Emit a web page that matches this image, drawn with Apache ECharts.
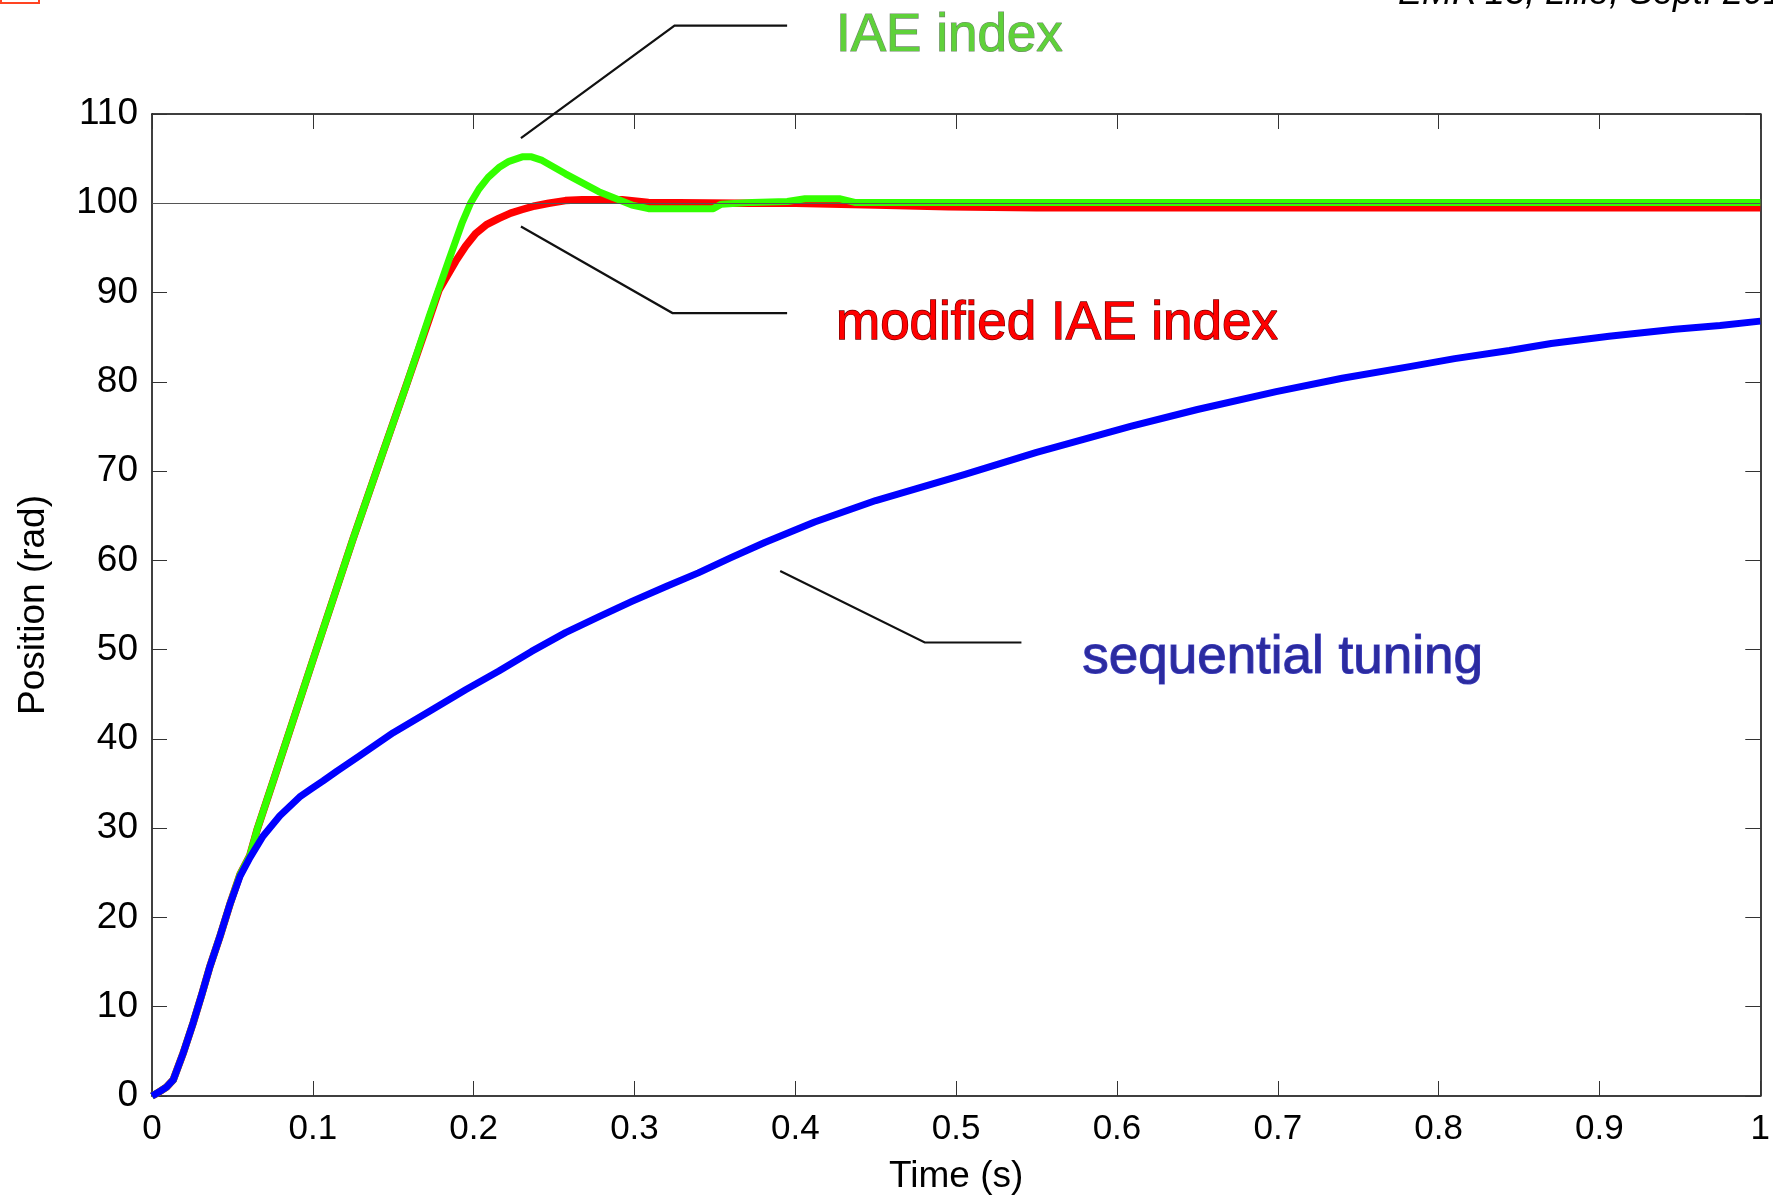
<!DOCTYPE html>
<html><head><meta charset="utf-8">
<script src="https://cdn.jsdelivr.net/npm/echarts@6/dist/echarts.min.js"></script>
<style>html,body{margin:0;padding:0;background:#fff}#c{width:1773px;height:1200px}</style>
</head><body><div id="c"></div>
<script>
// ---- data ----
const xTickValues = [0, 0.1, 0.2, 0.3, 0.4, 0.5, 0.6, 0.7, 0.8, 0.9, 1];
const yTickValues = [0, 10, 20, 30, 40, 50, 60, 70, 80, 90, 100, 110];
const setpoint = 100;

const tBlue = [0, 0.004, 0.009, 0.0132, 0.0194, 0.0256, 0.031, 0.036, 0.0423, 0.0485, 0.0547, 0.0609, 0.069, 0.0795, 0.0918, 0.099, 0.1064, 0.115, 0.129, 0.15, 0.1744, 0.195, 0.2157, 0.236, 0.2571, 0.278, 0.2984, 0.32, 0.3397, 0.36, 0.381, 0.412, 0.45, 0.505, 0.55, 0.6084, 0.65, 0.699, 0.74, 0.782, 0.81, 0.844, 0.87, 0.906, 0.947, 0.975, 1.0];
const vBlue = [0, 0.4, 1.0, 1.8, 4.8, 8.2, 11.4, 14.5, 17.9, 21.5, 24.6, 26.7, 29.1, 31.4, 33.5, 34.4, 35.3, 36.4, 38.1, 40.7, 43.3, 45.5, 47.6, 49.8, 51.9, 53.7, 55.4, 57.1, 58.6, 60.3, 62.0, 64.3, 66.7, 69.6, 72.1, 75.0, 76.9, 78.9, 80.4, 81.7, 82.6, 83.5, 84.3, 85.1, 85.9, 86.3, 86.8];

const tRed = [0, 0.004, 0.009, 0.0132, 0.0194, 0.0256, 0.031, 0.036, 0.0423, 0.0485, 0.0547, 0.0608, 0.0653, 0.0756, 0.1, 0.1248, 0.1434, 0.1579, 0.1723, 0.1785, 0.1888, 0.195, 0.2012, 0.208, 0.2157, 0.223, 0.2302, 0.238, 0.2467, 0.257, 0.2674, 0.2922, 0.3087, 0.365, 0.40, 0.45, 0.495, 0.55, 0.7, 1.0];
const vRed = [0, 0.4, 1.0, 1.8, 4.8, 8.2, 11.4, 14.5, 17.9, 21.5, 24.8, 26.9, 29.8, 35.4, 48.8, 62.3, 72.0, 79.5, 87.0, 90.3, 93.5, 95.2, 96.6, 97.6, 98.3, 98.9, 99.3, 99.7, 100.0, 100.3, 100.4, 100.4, 100.1, 100.0, 100.0, 99.8, 99.6, 99.5, 99.5, 99.5];

const tGreen = [0, 0.004, 0.009, 0.0132, 0.0194, 0.0256, 0.031, 0.036, 0.0423, 0.0485, 0.0547, 0.0608, 0.0653, 0.0756, 0.1, 0.1248, 0.1434, 0.1579, 0.1723, 0.1847, 0.193, 0.198, 0.2033, 0.209, 0.2157, 0.222, 0.2302, 0.236, 0.2426, 0.2571, 0.2778, 0.2984, 0.3087, 0.349, 0.354, 0.373, 0.395, 0.406, 0.428, 0.437, 1.0];
const vGreen = [0, 0.4, 1.0, 1.8, 4.8, 8.2, 11.4, 14.5, 17.9, 21.5, 24.8, 26.9, 29.8, 35.4, 48.8, 62.3, 72.0, 79.5, 87.3, 93.7, 97.9, 100.0, 101.6, 102.9, 104.0, 104.7, 105.2, 105.2, 104.8, 103.3, 101.3, 99.8, 99.4, 99.4, 99.9, 100.1, 100.2, 100.5, 100.5, 100.1, 100.1];

// annotation anchors in data units
const leaderIAE = [[0.2294, 107.3], [0.3249, 119.9], [0.3949, 119.9]];
const leaderMod = [[0.2294, 97.4], [0.3236, 87.7], [0.3949, 87.7]];
const leaderSeq = [[0.3906, 58.8], [0.4805, 50.8], [0.5406, 50.8]];
const labelIAE = [0.4253, 116.9];
const labelMod = [0.4253, 84.7];
const labelSeq = [0.5784, 47.2];
const labelTexts = ['IAE index', 'modified IAE index', 'sequential tuning'];
const cornerNote = "EMR'13, Lille, Sept. 2013";

// ---- chart ----
const FF = '"Liberation Sans", Arial, Helvetica, sans-serif';
const pairs = (t, v) => t.map((x, i) => [x, v[i]]);
const chart = echarts.init(document.getElementById('c'), null, {renderer: 'canvas'});

const xFmt = v => (v === 0 ? '0' : v === 1 ? '1' : String(+v.toFixed(1)));
const axisLineStyle = {color: '#000', width: 1.5};
const tickStyle = {show: true, inside: true, length: 15, lineStyle: {color: '#333', width: 1}};

const option = {
  animation: false,
  backgroundColor: '#fff',
  grid: {left: 152, right: 7, top: 114, bottom: 104, containLabel: false},
  xAxis: [
    {type: 'value', min: 0, max: 1, interval: 0.1, position: 'bottom',
     axisLine: {show: true, onZero: false, lineStyle: axisLineStyle},
     axisTick: tickStyle,
     axisLabel: {color: '#000', fontSize: 35, fontFamily: FF, margin: 16, formatter: xFmt},
     splitLine: {show: false},
     name: 'Time (s)', nameLocation: 'middle', nameGap: 62,
     nameTextStyle: {color: '#000', fontSize: 37, fontFamily: FF}},
    {type: 'value', min: 0, max: 1, interval: 0.1, position: 'top',
     axisLine: {show: true, onZero: false, lineStyle: axisLineStyle},
     axisTick: tickStyle, axisLabel: {show: false}, splitLine: {show: false}}
  ],
  yAxis: [
    {type: 'value', min: 0, max: 110, interval: 10, position: 'left',
     axisLine: {show: true, onZero: false, lineStyle: axisLineStyle},
     axisTick: tickStyle,
     axisLabel: {color: '#000', fontSize: 37, fontFamily: FF, margin: 14},
     splitLine: {show: false},
     name: 'Position (rad)', nameLocation: 'middle', nameGap: 100, nameRotate: 90,
     nameTextStyle: {color: '#000', fontSize: 37, fontFamily: FF}},
    {type: 'value', min: 0, max: 110, interval: 10, position: 'right',
     axisLine: {show: true, onZero: false, lineStyle: axisLineStyle},
     axisTick: tickStyle, axisLabel: {show: false}, splitLine: {show: false}}
  ],
  series: [
    {type: 'line', name: 'ref', data: [], z: 1, silent: true,
     markLine: {silent: true, symbol: 'none', label: {show: false},
       lineStyle: {color: '#555', width: 1, type: 'solid'}, data: [{yAxis: setpoint}]}},
    {type: 'line', name: 'modified IAE index', data: pairs(tRed, vRed), showSymbol: false, z: 2,
     lineStyle: {color: '#ff0000', width: 7.5, join: 'round'}, itemStyle: {color: '#ff0000'}},
    {type: 'line', name: 'IAE index', data: pairs(tGreen, vGreen), showSymbol: false, z: 3,
     lineStyle: {color: '#33ff00', width: 7, join: 'round'}, itemStyle: {color: '#33ff00'}},
    {type: 'line', name: 'sequential tuning', data: pairs(tBlue, vBlue), showSymbol: false, z: 4,
     lineStyle: {color: '#0000ff', width: 7, join: 'round'}, itemStyle: {color: '#0000ff'}}
  ]
};
chart.setOption(option);

const P = d => chart.convertToPixel({xAxisIndex: 0, yAxisIndex: 0}, d);
const FS = 53;
function leader(pts) {
  return {type: 'polyline', z: 50, shape: {points: pts.map(P)},
          style: {stroke: '#111', lineWidth: 2.2, fill: null}};
}
function label(anchor, text, style) {
  const p = P(anchor);
  return {type: 'text', z: 60, x: p[0], y: p[1] - 0.3 * FS,
          style: Object.assign({text: text, fontSize: FS, fontFamily: FF, align: 'left', verticalAlign: 'middle'}, style)};
}
chart.setOption({
  graphic: [
    leader(leaderIAE), leader(leaderMod), leader(leaderSeq),
    label(labelIAE, labelTexts[0], {fill: '#5fd13a', stroke: 'rgba(10,50,0,0.6)', lineWidth: 1.2}),
    label(labelMod, labelTexts[1], {fill: '#ff0000', stroke: '#6a0000', lineWidth: 1.3}),
    label(labelSeq, labelTexts[2], {fill: '#2b2ba0', stroke: '#4a4ac8', lineWidth: 1.2,
      shadowColor: 'rgba(70,70,200,0.55)', shadowOffsetX: 2, shadowOffsetY: 2, shadowBlur: 2}),
    {type: 'text', z: 60, left: 1398, top: -24,
     style: {text: cornerNote, fontSize: 36, fontStyle: 'italic', fontFamily: FF, fill: '#000'}},
    {type: 'rect', z: 60, shape: {x: 1, y: -20, width: 38, height: 23},
     style: {fill: null, stroke: '#ff4422', lineWidth: 2}}
  ]
});
</script></body></html>
